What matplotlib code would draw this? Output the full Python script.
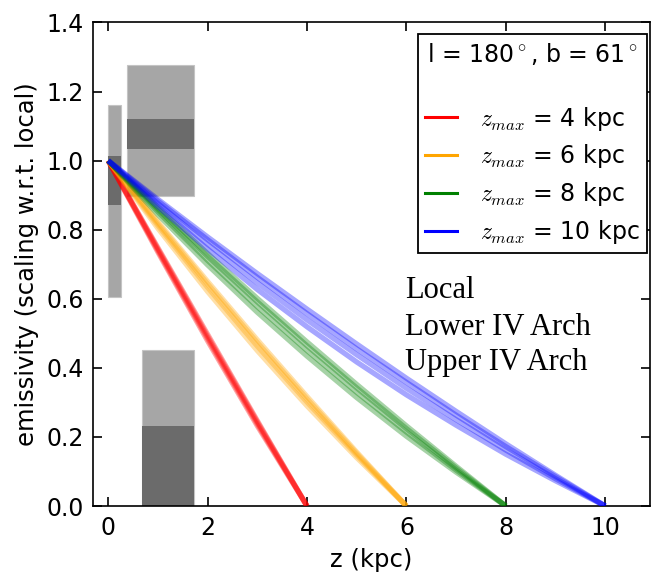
import matplotlib
matplotlib.use("Agg")
import matplotlib.pyplot as plt
from matplotlib.lines import Line2D

plt.rcParams['mathtext.fontset'] = 'cm'

# z values (kpc) and emissivity, a few lines per bundle
z_red = [0, 1, 2, 3, 4]
red_lines = [
    [1.0, 0.735, 0.478, 0.232, 0.0],
    [1.0, 0.740, 0.485, 0.238, 0.0],
    [1.0, 0.744, 0.491, 0.243, 0.0],
    [1.0, 0.748, 0.497, 0.247, 0.0],
]
z_orange = [0, 1, 2, 3, 4, 5, 6]
orange_lines = [
    [1.0, 0.804, 0.621, 0.450, 0.290, 0.140, 0.0],
    [1.0, 0.812, 0.633, 0.463, 0.301, 0.147, 0.0],
    [1.0, 0.818, 0.643, 0.473, 0.310, 0.152, 0.0],
    [1.0, 0.823, 0.650, 0.481, 0.317, 0.156, 0.0],
]
z_green = [0, 1, 2, 3, 4, 5, 6, 7, 8]
green_lines = [
    [1.0, 0.844, 0.698, 0.561, 0.434, 0.314, 0.202, 0.098, 0.0],
    [1.0, 0.852, 0.711, 0.577, 0.450, 0.329, 0.214, 0.104, 0.0],
    [1.0, 0.859, 0.723, 0.591, 0.464, 0.342, 0.224, 0.110, 0.0],
    [1.0, 0.864, 0.731, 0.601, 0.475, 0.352, 0.232, 0.115, 0.0],
]
z_blue = [0, 1, 2, 3, 4, 5, 6, 7, 8, 9, 10]
blue_lines = [
    [1.0, 0.867, 0.744, 0.627, 0.519, 0.417, 0.322, 0.234, 0.150, 0.073, 0.0],
    [1.0, 0.876, 0.758, 0.646, 0.539, 0.438, 0.341, 0.250, 0.162, 0.079, 0.0],
    [1.0, 0.883, 0.771, 0.662, 0.557, 0.455, 0.358, 0.263, 0.172, 0.085, 0.0],
    [1.0, 0.888, 0.779, 0.673, 0.570, 0.469, 0.370, 0.274, 0.180, 0.089, 0.0],
]
zmax_vals = [4, 6, 8, 10]
colors = ['red', 'orange', 'green', 'blue']

# grey boxes: Local, Upper IV Arch, Lower IV Arch (x0, x1, y0, y1)
light_boxes = [(0.0, 0.25, 0.605, 1.16), (0.38, 1.73, 0.897, 1.278), (0.69, 1.73, 0.0, 0.453)]
dark_boxes = [(0.0, 0.25, 0.871, 1.014), (0.38, 1.73, 1.035, 1.12), (0.69, 1.73, 0.0, 0.232)]

region_names = ['Local', 'Lower IV Arch', 'Upper IV Arch']
region_y = [0.601, 0.495, 0.393]

fs = 17
fig = plt.figure(figsize=(6.56, 5.75), dpi=100)
ax = fig.add_axes([0.1422, 0.12, 0.8486, 0.8409])

for x0, x1, y0, y1 in light_boxes:
    ax.bar(x0, y1 - y0, width=x1 - x0, bottom=y0, align='edge', color='#a6a6a6',
           edgecolor='#c4c4c4', lw=0.8, zorder=1)
for x0, x1, y0, y1 in dark_boxes:
    ax.bar(x0, y1 - y0, width=x1 - x0, bottom=y0, align='edge', color='#6b6b6b', zorder=1)

bundles = [(z_red, red_lines), (z_orange, orange_lines), (z_green, green_lines), (z_blue, blue_lines)]
for (zs, lines), c in zip(bundles, colors):
    for ys in lines:
        ax.plot(zs, ys, color=c, lw=3.8, alpha=0.35, zorder=3, solid_capstyle='butt')

for name, y in zip(region_names, region_y):
    ax.text(5.97, y, name, fontsize=22, family='Liberation Serif', va='baseline', ha='left')

handles = [Line2D([], [], color='none')]
labels = [' ']
for zm, c in zip(zmax_vals, colors):
    handles.append(Line2D([], [], color=c, lw=2.2))
    labels.append(r'$z_{max}$ = %d kpc' % zm)
leg = ax.legend(handles, labels, title=r'l = 180$^\circ$, b = 61$^\circ$',
                loc='upper right', bbox_to_anchor=(0.9946, 0.976), borderaxespad=0,
                fontsize=fs, title_fontsize=fs, fancybox=False, framealpha=1,
                edgecolor='black', handlelength=1.35, handletextpad=1.0,
                labelspacing=0.42, borderpad=0.3)
leg.get_texts()[0].set_fontsize(4)
leg.get_frame().set_linewidth(1.3)

ax.set_xlim(-0.3, 10.9)
ax.set_ylim(0, 1.4)
ax.set_xticks([0, 2, 4, 6, 8, 10])
ax.set_yticks([0.0, 0.2, 0.4, 0.6, 0.8, 1.0, 1.2, 1.4])
ax.set_yticklabels(['0.0', '0.2', '0.4', '0.6', '0.8', '1.0', '1.2', '1.4'])
ax.tick_params(direction='in', top=True, right=True, length=6.5, width=1.2,
               labelsize=fs, pad=7)
for s in ax.spines.values():
    s.set_linewidth(1.2)
ax.set_xlabel('z (kpc)', fontsize=17.5, labelpad=6)
ax.set_ylabel('emissivity (scaling w.r.t. local)', fontsize=17.5, labelpad=5)

fig.savefig('out.png', dpi=100)
